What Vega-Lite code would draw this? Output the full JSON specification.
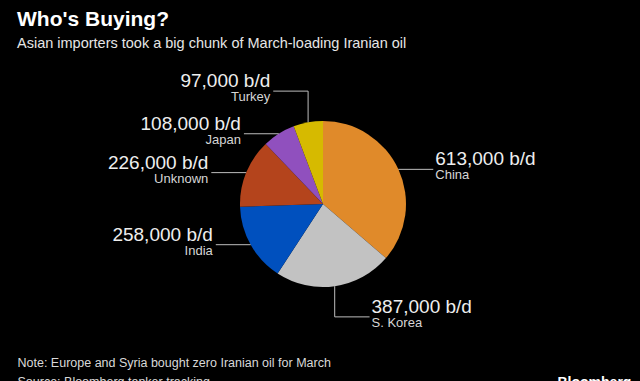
{
  "$schema": "https://vega.github.io/schema/vega-lite/v6.json",
  "width": 623,
  "height": 326,
  "autosize": {"type": "none"},
  "padding": {"left": 17, "top": 55, "right": 0, "bottom": 0},
  "background": "#000000",
  "title": {
    "text": "Who's Buying?",
    "subtitle": "Asian importers took a big chunk of March-loading Iranian oil",
    "anchor": "start",
    "frame": "group",
    "font": "Liberation Sans",
    "fontSize": 21,
    "fontWeight": "bold",
    "color": "#FFFFFF",
    "subtitleFont": "Liberation Sans",
    "subtitleFontSize": 14.5,
    "subtitleColor": "#E6E6E6",
    "subtitlePadding": 7,
    "offset": 5
  },
  "config": {
    "view": {"stroke": null},
    "axis": {"labels": false, "ticks": false, "domain": false, "grid": false}
  },
  "data": {
    "values": [
      {"country": "China", "value": 613000, "rank": 1},
      {"country": "S. Korea", "value": 387000, "rank": 2},
      {"country": "India", "value": 258000, "rank": 3},
      {"country": "Unknown", "value": 226000, "rank": 4},
      {"country": "Japan", "value": 108000, "rank": 5},
      {"country": "Turkey", "value": 97000, "rank": 6}
    ]
  },
  "transform": [
    {"joinaggregate": [{"op": "sum", "field": "value", "as": "total"}]},
    {"stack": "value", "groupby": [], "sort": [{"field": "rank", "order": "ascending"}], "as": ["v0", "v1"]},
    {"calculate": "datum.v0 / datum.total", "as": "f0"},
    {"calculate": "datum.v1 / datum.total", "as": "f1"},
    {"calculate": "PI * (datum.f0 + datum.f1)", "as": "mid"},
    {"calculate": "sin(datum.mid)", "as": "ex"},
    {"calculate": "cos(datum.mid)", "as": "ey"},
    {"calculate": "abs(datum.ey) > 0.9 ? (datum.ey > 0 ? 1.36 : -1.36) : datum.ey", "as": "ky"},
    {"calculate": "datum.ex + (datum.ex > 0 ? 0.42 : -0.42)", "as": "lx"},
    {"calculate": "format(datum.value, ',') + ' b/d'", "as": "label"}
  ],
  "layer": [
    {
      "mark": {"type": "arc", "radius": 83},
      "encoding": {
        "x": {
          "datum": 0,
          "type": "quantitative",
          "scale": {"domain": [-3.6867, 3.8193], "nice": false, "zero": false},
          "axis": {
            "title": ["Note: Europe and Syria bought zero Iranian oil for March", "Source: Bloomberg tanker tracking"],
            "titleX": 0,
            "titleY": -15,
            "titleAlign": "left",
            "titleAnchor": null,
            "titleBaseline": "alphabetic",
            "titleFont": "Liberation Sans",
            "titleFontSize": 12.5,
            "titleFontWeight": "normal",
            "titleColor": "#D9D9D9",
            "titleLineHeight": 19
          }
        },
        "y": {
          "datum": 0,
          "type": "quantitative",
          "scale": {"domain": [-2.1325, 1.7952], "nice": false, "zero": false},
          "axis": {
            "orient": "right",
            "title": "Bloomberg",
            "titleAngle": 0,
            "titleX": -83,
            "titleY": 331,
            "titleAlign": "left",
            "titleAnchor": null,
            "titleBaseline": "alphabetic",
            "titleFont": "Liberation Sans",
            "titleFontSize": 14,
            "titleFontWeight": "bold",
            "titleColor": "#FFFFFF"
          }
        },
        "theta": {"field": "f0", "type": "quantitative", "scale": {"domain": [0, 1]}},
        "theta2": {"field": "f1"},
        "color": {
          "field": "country",
          "type": "nominal",
          "scale": {
            "domain": ["China", "S. Korea", "India", "Unknown", "Japan", "Turkey"],
            "range": ["#E08A2A", "#C2C2C2", "#0050BE", "#B4441C", "#9050BE", "#D6BA00"]
          },
          "legend": null
        }
      }
    },
    {
      "mark": {"type": "rule", "color": "#BDBDBD", "strokeWidth": 1},
      "encoding": {
        "x": {"field": "ex", "type": "quantitative"},
        "y": {"field": "ey", "type": "quantitative"},
        "y2": {"field": "ky"}
      }
    },
    {
      "mark": {"type": "rule", "color": "#BDBDBD", "strokeWidth": 1},
      "encoding": {
        "x": {"field": "ex", "type": "quantitative"},
        "x2": {"field": "lx"},
        "y": {"field": "ky", "type": "quantitative"}
      }
    },
    {
      "transform": [{"filter": "datum.ex > 0"}],
      "mark": {"type": "text", "align": "left", "baseline": "alphabetic", "dx": 2, "dy": -4, "fontSize": 19, "font": "Liberation Sans", "color": "#EEEEEE"},
      "encoding": {
        "x": {"field": "lx", "type": "quantitative"},
        "y": {"field": "ky", "type": "quantitative"},
        "text": {"field": "label"}
      }
    },
    {
      "transform": [{"filter": "datum.ex > 0"}],
      "mark": {"type": "text", "align": "left", "baseline": "alphabetic", "dx": 2, "dy": 10, "fontSize": 13, "font": "Liberation Sans", "color": "#D6D6D6"},
      "encoding": {
        "x": {"field": "lx", "type": "quantitative"},
        "y": {"field": "ky", "type": "quantitative"},
        "text": {"field": "country"}
      }
    },
    {
      "transform": [{"filter": "datum.ex < 0"}],
      "mark": {"type": "text", "align": "right", "baseline": "alphabetic", "dx": -3, "dy": -4, "fontSize": 19, "font": "Liberation Sans", "color": "#EEEEEE"},
      "encoding": {
        "x": {"field": "lx", "type": "quantitative"},
        "y": {"field": "ky", "type": "quantitative"},
        "text": {"field": "label"}
      }
    },
    {
      "transform": [{"filter": "datum.ex < 0"}],
      "mark": {"type": "text", "align": "right", "baseline": "alphabetic", "dx": -3, "dy": 10, "fontSize": 13, "font": "Liberation Sans", "color": "#D6D6D6"},
      "encoding": {
        "x": {"field": "lx", "type": "quantitative"},
        "y": {"field": "ky", "type": "quantitative"},
        "text": {"field": "country"}
      }
    }
  ]
}
